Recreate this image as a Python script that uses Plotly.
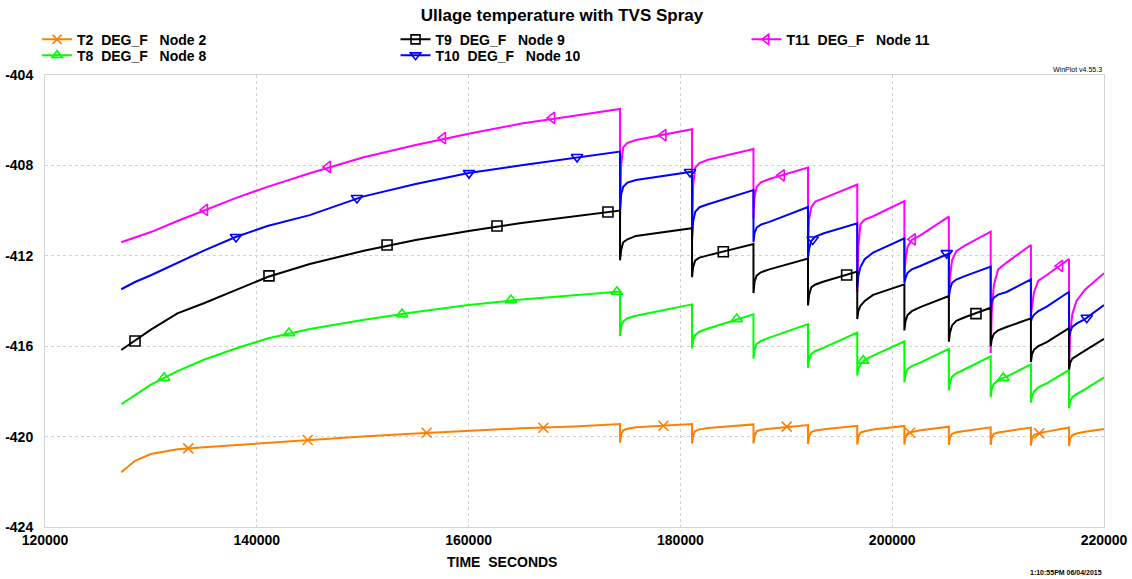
import plotly.graph_objects as go

# ---------------- data ----------------
time_s = [127200, 128500, 130000, 132500, 135000, 138000, 141000, 145000, 150000, 155000, 160000, 165000, 170000, 174300,
          174300, 174400, 174600, 175000, 175800, 181100,
          181100, 181200, 181400, 181800, 182600, 186900,
          186900, 187000, 187200, 187600, 188400, 192050,
          192050, 192150, 192350, 192750, 193550, 196700,
          196700, 196800, 197000, 197400, 198200, 201150,
          201150, 201250, 201450, 201850, 202650, 205350,
          205350, 205450, 205650, 206050, 206850, 209300,
          209300, 209400, 209600, 210000, 210800, 213100,
          213100, 213200, 213400, 213800, 214600, 216700,
          216700, 216800, 217000, 217400, 218200, 220000]

t2_node2 = [-421.58, -421.07, -420.77, -420.56, -420.47, -420.37, -420.27, -420.15, -420.0, -419.86, -419.73, -419.63, -419.55, -419.44,
            -420.27, -419.93, -419.72, -419.65, -419.59, -419.44,
            -420.3, -419.97, -419.75, -419.68, -419.62, -419.46,
            -420.3, -419.98, -419.77, -419.7, -419.65, -419.49,
            -420.33, -420.0, -419.8, -419.73, -419.67, -419.52,
            -420.35, -420.02, -419.82, -419.76, -419.69, -419.53,
            -420.35, -420.03, -419.87, -419.8, -419.72, -419.56,
            -420.37, -420.05, -419.88, -419.81, -419.75, -419.59,
            -420.37, -420.05, -419.88, -419.82, -419.76, -419.6,
            -420.4, -420.08, -419.92, -419.86, -419.78, -419.6,
            -420.42, -420.1, -419.93, -419.86, -419.79, -419.66]

t8_node8 = [-418.57, -418.17, -417.7, -417.1, -416.6, -416.1, -415.66, -415.24, -414.84, -414.49, -414.18, -413.93, -413.73, -413.58,
            -415.55, -415.15, -414.9, -414.76, -414.65, -414.15,
            -416.1, -415.75, -415.5, -415.36, -415.22, -414.59,
            -416.55, -416.15, -415.9, -415.77, -415.62, -415.02,
            -416.95, -416.6, -416.35, -416.21, -416.06, -415.4,
            -417.3, -417.0, -416.8, -416.6, -416.42, -415.78,
            -417.6, -417.25, -417.02, -416.88, -416.73, -416.12,
            -417.95, -417.6, -417.35, -417.2, -417.02, -416.45,
            -418.25, -417.9, -417.67, -417.5, -417.35, -416.8,
            -418.5, -418.2, -418.0, -417.82, -417.64, -417.05,
            -418.75, -418.45, -418.26, -418.12, -417.91, -417.38]

t9_node9 = [-416.17, -415.77, -415.27, -414.55, -414.1, -413.52, -412.94, -412.36, -411.79, -411.3, -410.9, -410.55, -410.24, -410.0,
            -412.2, -411.75, -411.4, -411.27, -411.12, -410.78,
            -412.95, -412.5, -412.2, -412.08, -411.98, -411.48,
            -413.65, -413.15, -412.88, -412.73, -412.6, -412.12,
            -414.2, -413.75, -413.4, -413.27, -413.14, -412.7,
            -414.8, -414.45, -414.22, -414.0, -413.73, -413.26,
            -415.3, -414.9, -414.62, -414.45, -414.27, -413.78,
            -415.8, -415.4, -415.08, -414.88, -414.72, -414.3,
            -416.0, -415.7, -415.45, -415.3, -415.15, -414.77,
            -416.7, -416.35, -416.15, -416.0, -415.82, -415.2,
            -417.05, -416.75, -416.55, -416.42, -416.2, -415.67]

t10_node10 = [-413.48, -413.16, -412.86, -412.3, -411.77, -411.17, -410.68, -410.2, -409.38, -408.82, -408.34, -407.99, -407.67, -407.39,
              -410.0, -409.3, -408.95, -408.76, -408.65, -408.28,
              -411.2, -410.5, -410.05, -409.85, -409.72, -409.09,
              -411.4, -411.0, -410.75, -410.62, -410.5, -409.84,
              -412.1, -411.7, -411.35, -411.15, -411.0, -410.56,
              -413.4, -412.9, -412.5, -412.15, -411.86, -411.23,
              -413.2, -413.0, -412.75, -412.6, -412.45, -411.9,
              -413.8, -413.5, -413.2, -413.05, -412.9, -412.48,
              -414.3, -414.0, -413.85, -413.72, -413.6, -413.04,
              -414.9, -414.75, -414.6, -414.45, -414.25, -413.59,
              -415.6, -415.35, -415.15, -415.0, -414.8, -414.18]

t11_node11 = [-411.4, -411.2, -410.95, -410.46, -410.0, -409.45, -408.95, -408.35, -407.65, -407.1, -406.6, -406.15, -405.8, -405.5,
              -410.4, -408.0, -407.2, -407.0, -406.88, -406.4,
              -411.3, -408.9, -408.1, -407.9, -407.75, -407.28,
              -410.35, -409.4, -408.95, -408.75, -408.6, -408.1,
              -411.6, -410.4, -409.85, -409.6, -409.45, -408.85,
              -413.6, -411.6, -410.6, -410.4, -410.25, -409.58,
              -413.0, -412.2, -411.6, -411.3, -411.1, -410.27,
              -414.0, -413.0, -412.2, -411.8, -411.55, -410.93,
              -416.3, -414.5, -413.3, -412.6, -412.3, -411.52,
              -414.7, -414.2, -413.6, -413.1, -412.85, -412.14,
              -417.0, -415.5, -414.6, -414.0, -413.5, -412.77]

# marker positions along each curve
t2_mark_t = [133530, 144810, 156040, 167060, 178390, 190040, 201680, 213890]
t2_mark_v = [-420.52, -420.15, -419.83, -419.61, -419.52, -419.56, -419.83, -419.86]
t8_mark_t = [131240, 143040, 153710, 164000, 174010, 185320, 197270, 210490]
t8_mark_v = [-417.4, -415.42, -414.58, -413.96, -413.59, -414.8, -416.64, -417.4]
t9_mark_t = [128500, 141150, 152300, 162680, 173160, 184050, 195700, 207910]
t9_mark_v = [-415.77, -412.89, -411.52, -410.68, -410.06, -411.82, -412.85, -414.56]
t10_mark_t = [138040, 149460, 160040, 170240, 180910, 192490, 205150, 218370]
t10_mark_v = [-411.17, -409.44, -408.34, -407.63, -408.29, -411.28, -411.88, -414.74]
t11_mark_t = [135110, 146720, 157580, 167880, 178390, 189570, 201940, 215850]
t11_mark_v = [-409.97, -408.07, -406.79, -405.9, -406.66, -408.44, -411.27, -412.45]

series_names = ["T2\u00a0 DEG_F\u00a0\u00a0 Node 2", "T8\u00a0 DEG_F\u00a0\u00a0 Node 8",
                "T9\u00a0 DEG_F\u00a0\u00a0 Node 9", "T10\u00a0 DEG_F\u00a0\u00a0 Node 10",
                "T11\u00a0 DEG_F\u00a0\u00a0 Node 11"]

x_tick_vals = [120000, 140000, 160000, 180000, 200000, 220000]
x_tick_text = ["120000", "140000", "160000", "180000", "200000", "220000"]
y_tick_vals = [-424, -420, -416, -412, -408, -404]
y_tick_text = ["-424", "-420", "-416", "-412", "-408", "-404"]

# ---------------- styling ----------------
FONT = "Liberation Sans, Arial, sans-serif"
colors = ["#FF8000", "#00FF00", "#000000", "#0000FF", "#FF00FF"]
symbols = ["x-thin-open", "triangle-up-open", "square-open", "triangle-down-open", "triangle-left-open"]
values = [t2_node2, t8_node8, t9_node9, t10_node10, t11_node11]
mark_t = [t2_mark_t, t8_mark_t, t9_mark_t, t10_mark_t, t11_mark_t]
mark_v = [t2_mark_v, t8_mark_v, t9_mark_v, t10_mark_v, t11_mark_v]
legend_ids = ["legend", "legend3", "legend2", "legend4", "legend5"]

fig = go.Figure()
# lines: T11 at the bottom, T2 on top (as in the reference's overlaps)
for i in [4, 3, 2, 1, 0]:
    fig.add_trace(go.Scatter(x=time_s, y=values[i], mode="lines",
                             line=dict(color=colors[i], width=2),
                             showlegend=False, hoverinfo="skip"))
for i in range(5):
    fig.add_trace(go.Scatter(x=mark_t[i], y=mark_v[i], mode="markers",
                             marker=dict(symbol=symbols[i], size=10, color=colors[i],
                                         line=dict(color=colors[i], width=1.6)),
                             showlegend=False, hoverinfo="skip"))
for i in range(5):
    fig.add_trace(go.Scatter(x=[None], y=[None], mode="lines+markers", name=series_names[i],
                             line=dict(color=colors[i], width=2),
                             marker=dict(symbol=symbols[i], size=9, color=colors[i],
                                         line=dict(color=colors[i], width=1.6)),
                             legend=legend_ids[i]))

legend_font = dict(family=FONT, size=14, color="#000000", weight="bold")
def leg(x, y):
    return dict(x=x, y=y, xanchor="left", yanchor="middle", bgcolor="rgba(0,0,0,0)",
                borderwidth=0, font=legend_font, orientation="v")

fig.update_layout(
    width=1132, height=579,
    margin=dict(l=45, r=28, t=75, b=52, autoexpand=False),
    paper_bgcolor="white", plot_bgcolor="white",
    title=dict(text="Ullage temperature with TVS Spray", x=0.4965, xanchor="center",
               y=0.974, yanchor="middle",
               font=dict(family=FONT, size=17, color="#000000", weight="bold")),
    legend=leg(-0.0075, 1.078),
    legend3=leg(-0.0075, 1.043),
    legend2=leg(0.331, 1.078),
    legend4=leg(0.331, 1.043),
    legend5=leg(0.6624, 1.078),
    xaxis=dict(range=[120000, 220000], tickvals=x_tick_vals, ticktext=x_tick_text,
               showgrid=True, gridcolor="#d2d2d2", griddash="dot", gridwidth=1,
               showline=True, linecolor="#d4d4d4", linewidth=1, mirror=True,
               zeroline=False, ticks="",
               tickfont=dict(family=FONT, size=14, color="#000000", weight="bold")),
    yaxis=dict(range=[-424, -404], tickvals=y_tick_vals, ticktext=y_tick_text,
               showgrid=True, gridcolor="#d2d2d2", griddash="dot", gridwidth=1,
               showline=True, linecolor="#d4d4d4", linewidth=1, mirror=True,
               zeroline=False, ticks="", ticklabelstandoff=8,
               tickfont=dict(family=FONT, size=14, color="#000000", weight="bold")),
    annotations=[
        dict(text="TIME  SECONDS", xref="paper", yref="paper", x=0.4315, y=-0.077,
             xanchor="center", yanchor="middle", showarrow=False,
             font=dict(family=FONT, size=14, color="#000000", weight="bold")),
        dict(text="WinPlot v4.55.3", xref="paper", yref="paper", x=1.0, y=1.0,
             xanchor="right", yanchor="bottom", showarrow=False,
             font=dict(family=FONT, size=7, color="#000000")),
        dict(text="1:10:55PM 06/04/2015", xref="paper", yref="paper", x=1.0, y=-0.1,
             xanchor="right", yanchor="middle", showarrow=False,
             font=dict(family=FONT, size=7, color="#000000", weight="bold")),
    ],
)

# remove the browser's default 8 px page margin so the figure fills the window
fig.write_html("out.html", config={"displayModeBar": False},
               post_script="document.body.style.margin='0px';")
